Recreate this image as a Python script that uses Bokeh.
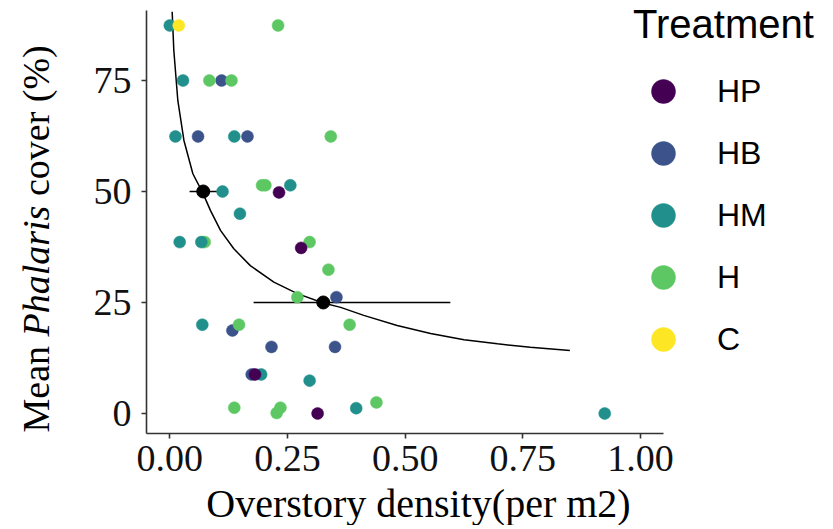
from bokeh.plotting import figure
from bokeh.models import Range1d, FixedTicker, Legend, LegendItem, Label
from bokeh.embed import file_html
from bokeh.resources import INLINE

# ---- data ----
treatments = ["HP", "HB", "HM", "H", "C"]
colors = ["#440154", "#3B528B", "#21908C", "#5DC863", "#FDE725"]

hp_x = [0.232, 0.279, 0.181, 0.314]
hp_y = [49.8, 37.3, 8.8, 0.0]

hb_x = [0.110, 0.060, 0.165, 0.354, 0.133, 0.216, 0.351, 0.174]
hb_y = [75.0, 62.4, 62.4, 26.2, 18.7, 15.0, 15.0, 8.8]

hm_x = [0.000, 0.028, 0.012, 0.137, 0.112, 0.256, 0.149, 0.021, 0.067, 0.069, 0.194, 0.297, 0.396, 0.924]
hm_y = [87.4, 75.0, 62.4, 62.4, 50.0, 51.4, 45.0, 38.6, 38.6, 20.0, 8.8, 7.4, 1.2, 0.0]

h_x = [0.230, 0.084, 0.131, 0.342, 0.196, 0.203, 0.074, 0.297, 0.337, 0.271, 0.147, 0.382, 0.137, 0.235, 0.227, 0.439]
h_y = [87.4, 75.0, 75.0, 62.4, 51.4, 51.4, 38.6, 38.6, 32.4, 26.2, 20.0, 20.0, 1.3, 1.3, 0.1, 2.5]

c_x = [0.019]
c_y = [87.4]

mean_x = [0.071, 0.326]
mean_y = [50.0, 25.0]
err_lo = [0.042, 0.178]
err_hi = [0.122, 0.596]

fit_x = [0.005, 0.0085, 0.017, 0.030, 0.049, 0.070, 0.0865, 0.108, 0.136, 0.171, 0.221,
         0.271, 0.326, 0.363, 0.412, 0.483, 0.554, 0.625, 0.696, 0.766, 0.850]
fit_y = [90.5, 81.8, 70.5, 61.5, 54.0, 49.7, 45.7, 41.2, 37.1, 33.3, 29.6,
         27.0, 24.9, 23.9, 22.1, 19.8, 18.0, 16.6, 15.7, 14.9, 14.2]

x_ticks = [0.0, 0.25, 0.5, 0.75, 1.0]
x_tick_labels = ["0.00", "0.25", "0.50", "0.75", "1.00"]
y_ticks = [0, 25, 50, 75]
y_tick_labels = ["0", "25", "50", "75"]

# panel limits (data units) and the whole-canvas view
X_LIM = (-0.0495, 1.049)
Y_LIM = (-4.5, 90.8)

W, H = 825, 525
p = figure(width=W, height=H, output_backend="svg", toolbar_location=None,
           x_range=Range1d(-0.3597, 1.393), y_range=Range1d(-25.23, 93.02),
           min_border=0, min_border_left=0, min_border_right=0,
           min_border_top=0, min_border_bottom=0)
p.outline_line_color = None
p.xgrid.visible = False
p.ygrid.visible = False
p.background_fill_color = "white"
p.border_fill_color = "white"

SERIF = "Liberation Serif"
SANS = "Liberation Sans"
for ax, ticks, labels in ((p.xaxis[0], x_ticks, x_tick_labels), (p.yaxis[0], y_ticks, y_tick_labels)):
    ax.ticker = FixedTicker(ticks=ticks)
    ax.major_label_overrides = {t: l for t, l in zip(ticks, labels)}
    ax.axis_line_color = "#333333"
    ax.axis_line_width = 1.6
    ax.major_tick_line_color = "#333333"
    ax.major_tick_line_width = 1.6
    ax.major_tick_out = 5
    ax.major_tick_in = 0
    ax.minor_tick_line_color = None
    ax.major_label_text_font = SERIF
    ax.major_label_text_font_size = "38px"
    ax.major_label_text_color = "#111111"
p.xaxis.fixed_location = Y_LIM[0]
p.xaxis.bounds = X_LIM
p.yaxis.fixed_location = X_LIM[0]
p.yaxis.bounds = Y_LIM
p.xaxis.major_label_standoff = 8
p.yaxis.major_label_standoff = 10

# fitted curve and means
p.line(fit_x, fit_y, line_color="black", line_width=1.5)
p.segment(x0=err_lo, y0=mean_y, x1=err_hi, y1=mean_y, line_color="black", line_width=1.6)

renderers = {}
groups = {"HP": (hp_x, hp_y), "HB": (hb_x, hb_y), "HM": (hm_x, hm_y), "H": (h_x, h_y), "C": (c_x, c_y)}
for name in ["HB", "H", "HM", "HP", "C"]:
    xs, ys = groups[name]
    col = colors[treatments.index(name)]
    renderers[name] = p.scatter(xs, ys, size=12, fill_color=col, line_color=col, line_width=0.5)

p.scatter(mean_x, mean_y, size=13, fill_color="black", line_color="black")

legend = Legend(items=[LegendItem(label=t, renderers=[renderers[t]]) for t in treatments],
                location=(633, H - 369), title="Treatment",
                title_text_font=SANS, title_text_font_size="40px",
                title_text_font_style="normal", title_text_color="black", title_standoff=14,
                label_text_font=SANS, label_text_font_size="32px",
                label_text_color="black", label_standoff=24,
                glyph_width=60, glyph_height=60, spacing=2, padding=0, margin=0,
                border_line_color=None, background_fill_alpha=0)
p.add_layout(legend, "center")

# axis titles (screen units from the canvas bottom-left)
p.add_layout(Label(x=418, y=H - 503, x_units="screen", y_units="screen",
                   text="Overstory density(per m2)", text_font=SERIF, text_font_size="40px",
                   text_align="center", text_baseline="alphabetic", text_color="black"))
for txt, y0, style in (("Mean", H - 432, "normal"), ("Phalaris", H - 336, "italic"), ("cover (%)", H - 195.6, "normal")):
    p.add_layout(Label(x=35.5, y=y0, x_units="screen", y_units="screen", angle=1.5707963,
                       text=txt, text_font=SERIF, text_font_size="38px", text_font_style=style,
                       text_align="left", text_baseline="alphabetic", text_color="black"))

open("out.html", "w").write(file_html(p, INLINE))
